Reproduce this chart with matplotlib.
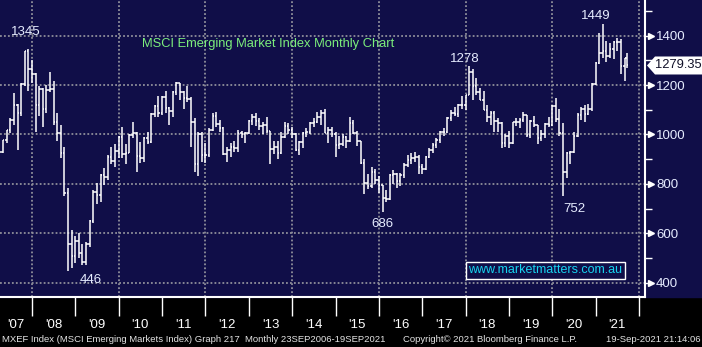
import matplotlib
matplotlib.use("Agg")
import matplotlib.pyplot as plt
import matplotlib.transforms as mtransforms
from matplotlib.patches import Polygon, Rectangle
import numpy as np
import pandas as pd

# MXEF monthly OHLC, Mar-2007 .. Sep-2021 (bars sit at month end, last one 19-Sep-2021)
FIRST_MONTH_END = "2007-03-31"
LAST_DATE = "2021-09-19"

OPEN = [
    900, 929, 976, 1018, 1059, 1120, 1089, 1205, 1338, 1267,
    1245, 1118, 1184, 1104, 1179, 1184, 1049, 1008, 924, 765, 555, 507,
    568, 519, 484, 558, 650, 767, 756, 837, 829, 907, 894, 935,
    989, 919, 926, 998, 1008, 911, 904, 987, 968, 1082, 1115, 1085,
    1151, 1107, 1096, 1171, 1209, 1170, 1147, 1142, 1050, 880, 1000, 918,
    916, 1018, 1074, 1041, 1025, 920, 937, 950, 945, 1004, 1001, 1006,
    1055, 1070, 1054, 1035, 1040, 1013, 940, 949, 925, 988, 1034, 1019,
    1003, 938, 968, 1008, 1010, 1045, 1050, 1070, 1088, 1005, 1017, 1000,
    956, 961, 990, 974, 1047, 1004, 972, 884, 805, 792, 848, 815,
    794, 743, 740, 836, 841, 810, 834, 876, 897, 903, 909, 867,
    862, 909, 936, 958, 979, 1009, 1011, 1066, 1089, 1081, 1119, 1121,
    1158, 1254, 1195, 1170, 1141, 1100, 1069, 1087, 1055, 1048, 967, 994,
    966, 1050, 1052, 1058, 1079, 998, 1054, 1037, 984, 1001, 1042, 1040,
    1115, 1062, 1006, 848, 925, 930, 995, 1079, 1102, 1082, 1103, 1205,
    1291, 1329, 1339, 1316, 1348, 1376, 1375, 1278, 1308,
]
HIGH = [
    930, 978, 1020, 1068, 1168, 1125, 1210, 1340, 1345, 1300,
    1250, 1195, 1190, 1200, 1253, 1215, 1085, 1040, 950, 785, 612, 590,
    600, 555, 565, 655, 775, 805, 840, 865, 915, 950, 960, 995,
    1032, 960, 1000, 1050, 1012, 970, 990, 1010, 1085, 1120, 1155, 1155,
    1175, 1110, 1175, 1212, 1210, 1175, 1195, 1150, 1065, 1010, 1010, 965,
    1025, 1085, 1090, 1060, 1030, 950, 965, 975, 1020, 1015, 1010, 1058,
    1083, 1085, 1065, 1050, 1070, 1015, 975, 975, 1010, 1050, 1045, 1030,
    1005, 975, 1010, 1025, 1050, 1065, 1090, 1100, 1104, 1030, 1030, 1010,
    995, 1000, 995, 1070, 1060, 1015, 975, 900, 840, 870, 860, 830,
    795, 775, 840, 855, 845, 845, 885, 915, 925, 930, 915, 880,
    912, 945, 965, 985, 1015, 1025, 1070, 1100, 1110, 1125, 1155, 1160,
    1278, 1265, 1230, 1190, 1175, 1120, 1095, 1095, 1065, 1050, 1000, 1015,
    1052, 1066, 1065, 1092, 1080, 1060, 1075, 1040, 1020, 1045, 1070, 1118,
    1147, 1105, 1046, 930, 935, 1010, 1085, 1110, 1120, 1125, 1210, 1295,
    1410, 1449, 1380, 1370, 1380, 1390, 1385, 1310, 1330,
]
LOW = [
    845, 925, 965, 1005, 1040, 938, 1075, 1195, 1175, 1210,
    1010, 1075, 1030, 1085, 1170, 1040, 975, 905, 750, 446, 460, 480,
    500, 470, 470, 545, 640, 720, 725, 795, 815, 880, 870, 905,
    905, 880, 925, 985, 850, 885, 890, 960, 965, 1070, 1070, 1080,
    1085, 1040, 1070, 1160, 1140, 1105, 1130, 950, 850, 830, 890, 885,
    910, 1015, 1030, 1010, 915, 890, 910, 930, 930, 985, 965, 1000,
    1040, 1035, 1020, 1000, 1005, 880, 920, 900, 920, 985, 1000, 985,
    935, 915, 945, 990, 1000, 1030, 1045, 1040, 1005, 965, 990, 910,
    940, 955, 945, 970, 1000, 955, 880, 760, 780, 785, 800, 765,
    686, 725, 735, 800, 785, 790, 825, 870, 880, 890, 840, 840,
    855, 905, 925, 945, 965, 995, 1005, 1055, 1075, 1070, 1105, 1100,
    1158, 1140, 1160, 1140, 1100, 1050, 1040, 1010, 1010, 945, 950, 945,
    960, 1035, 1025, 1050, 990, 985, 1030, 960, 975, 985, 1030, 1035,
    1050, 995, 752, 825, 880, 925, 990, 1060, 1050, 1080, 1095, 1200,
    1285, 1310, 1295, 1310, 1305, 1340, 1245, 1215, 1270,
]
CLOSE = [
    929, 976, 1018, 1059, 1120, 1089, 1205, 1338, 1267, 1245,
    1118, 1184, 1104, 1179, 1184, 1049, 1008, 924, 765, 555, 507, 568,
    519, 484, 558, 650, 767, 756, 837, 829, 907, 894, 935, 989,
    919, 926, 998, 1008, 911, 904, 987, 968, 1082, 1115, 1085, 1151,
    1107, 1096, 1171, 1209, 1170, 1147, 1142, 1050, 880, 1000, 918, 916,
    1018, 1074, 1041, 1025, 920, 937, 950, 945, 1004, 1001, 1006, 1055,
    1070, 1054, 1035, 1040, 1013, 940, 949, 925, 988, 1034, 1019, 1003,
    938, 968, 1008, 1010, 1045, 1050, 1070, 1088, 1005, 1017, 1000, 956,
    961, 990, 974, 1047, 1004, 972, 884, 805, 792, 848, 815, 794,
    743, 740, 836, 841, 810, 834, 876, 897, 903, 909, 867, 862,
    909, 936, 958, 979, 1009, 1011, 1066, 1089, 1081, 1119, 1121, 1158,
    1254, 1195, 1170, 1141, 1100, 1069, 1087, 1055, 1048, 967, 994, 966,
    1050, 1052, 1058, 1079, 998, 1054, 1037, 984, 1001, 1042, 1040, 1115,
    1062, 1006, 848, 925, 930, 995, 1079, 1102, 1082, 1103, 1205, 1291,
    1329, 1339, 1316, 1348, 1376, 1375, 1278, 1308, 1279.35,
]

YEARS = list(range(2007, 2022))
YEAR_LABELS = ["'07", "'08", "'09", "'10", "'11", "'12", "'13", "'14",
               "'15", "'16", "'17", "'18", "'19", "'20", "'21"]
GRID_YEARS = [2008, 2010, 2012, 2014, 2016, 2018, 2020, 2022]
Y_TICKS = [400, 600, 800, 1000, 1200, 1400]
Y_MINOR = [500, 700, 900, 1100, 1300, 1500]

CALLOUT_TEXT = ["1345", "446", "686", "1278", "752", "1449"]
CALLOUT_MONTH = ["2007-10", "2008-10", "2016-01", "2018-01", "2020-03", "2021-02"]
CALLOUT_SIDE = ["high", "low", "low", "high", "low", "high"]

TITLE = "MSCI Emerging Market Index Monthly Chart"
WEBSITE = "www.marketmatters.com.au"
FOOTER_LEFT = "MXEF Index (MSCI Emerging Markets Index) Graph 217  Monthly 23SEP2006-19SEP2021"
FOOTER_MID = "Copyright\u00a9 2021 Bloomberg Finance L.P."
FOOTER_RIGHT = "19-Sep-2021 21:14:06"

NAVY = "#100e48"
GRID = "#8f8f9a"
TICKTXT = "#e6ecff"


def year_frac(ts):
    ts = pd.DatetimeIndex(ts)
    days = np.where(ts.is_leap_year, 366, 365)
    return ts.year + ts.dayofyear / days


def main():
    plt.rcParams["font.family"] = ["Liberation Sans", "DejaVu Sans"]
    W, H, DPI = 702, 347, 100

    dates = pd.date_range(FIRST_MONTH_END, periods=len(CLOSE), freq=pd.offsets.MonthEnd())
    dates = dates[:-1].append(pd.DatetimeIndex([LAST_DATE]))
    t = year_frac(dates)

    fig = plt.figure(figsize=(W / DPI, H / DPI), dpi=DPI, facecolor="black")
    fig.patches.append(Rectangle((0, 50 / H), 1, 297 / H, transform=fig.transFigure,
                                 color=NAVY, zorder=-5))
    ax = fig.add_axes([0, 50 / H, 645 / W, 297 / H])
    ax.set_facecolor(NAVY)
    x0, x1 = 2007.262, 2022.138
    ax.set_xlim(x0, x1)
    ax.set_ylim(342, 1544.5)

    # grid
    for v in Y_TICKS:
        ax.axhline(v, color=GRID, lw=1.3, ls=(0, (1.0, 1.2)), zorder=1)
    for y in GRID_YEARS:
        ax.axvline(y, color=GRID, lw=1.3, ls=(0, (1.0, 1.2)), zorder=1)

    # OHLC bars
    tick = 0.036
    ax.vlines(t, LOW, HIGH, color="white", lw=1.1, zorder=3)
    ax.hlines(OPEN, t - tick, t, color="white", lw=1.1, zorder=3)
    ax.hlines(CLOSE, t, t + tick, color="white", lw=1.1, zorder=3)

    # spines
    for side in ("left", "top"):
        ax.spines[side].set_visible(False)
    for side in ("right", "bottom"):
        ax.spines[side].set_color("white")
        ax.spines[side].set_linewidth(1.5)

    # x axis: year separators + centred year labels
    ax.set_xticks(range(2008, 2023))
    ax.set_xticklabels([])
    centers = [(max(y, x0) + min(y + 1, x1)) / 2 for y in YEARS]
    ax.set_xticks(centers, minor=True)
    ax.set_xticklabels(YEAR_LABELS, minor=True, fontsize=9.5, color="white")
    ax.tick_params(axis="x", which="major", length=14, width=1.0, color="white", direction="out")
    ax.tick_params(axis="x", which="minor", length=0, pad=16)

    # right price scale
    ax.yaxis.tick_right()
    ax.set_yticks(Y_TICKS)
    ax.set_yticklabels([str(v) for v in Y_TICKS], fontsize=9.5, color=TICKTXT)
    ax.set_yticks(Y_MINOR, minor=True)
    ax.tick_params(axis="y", which="major", length=5, width=1.0, color="white", pad=3)
    ax.tick_params(axis="y", which="minor", length=5, width=1.0, color="white")
    tri = mtransforms.blended_transform_factory(ax.transAxes, ax.transData)
    ax.plot(np.full(len(Y_TICKS), 1.0095), Y_TICKS, ls="none", marker=">", ms=4.5,
            color="white", transform=tri, clip_on=False, zorder=5)

    # callouts on highs and lows
    month_keys = list(dates.strftime("%Y-%m"))
    offsets = {"1345": (1, 9), "446": (16, -2), "686": (0, -4.4),
               "1278": (-3, 0.5), "752": (8, -5), "1449": (-5, 1.2)}
    for text, month, side in zip(CALLOUT_TEXT, CALLOUT_MONTH, CALLOUT_SIDE):
        i = month_keys.index(month)
        val = HIGH[i] if side == "high" else LOW[i]
        ax.annotate(text, (t[i], val), xytext=offsets[text], textcoords="offset points",
                    ha="center", va="bottom" if side == "high" else "top",
                    color=TICKTXT, fontsize=9.5, zorder=6)

    ax.text(141.5 / 645, (297 - 43.5) / 297, TITLE, transform=ax.transAxes,
            color="#7cee7c", fontsize=9.3, ha="left", va="center")
    ax.text(545.5 / 645, (297 - 270) / 297, WEBSITE, transform=ax.transAxes,
            color="#17d4f0", fontsize=9.0, ha="center", va="center",
            bbox=dict(boxstyle="square,pad=0.2", fc=NAVY, ec="white", lw=1.0))

    # last price tag
    fig.canvas.draw()
    yd = ax.transData.transform((0, CLOSE[-1]))[1]
    xr = ax.transAxes.transform((1, 0))[0]
    tag = Polygon([(xr + 2, yd), (xr + 10, yd + 9), (W, yd + 9), (W, yd - 9), (xr + 10, yd - 9)],
                  closed=True, fc="white", ec="none", transform=mtransforms.IdentityTransform(),
                  zorder=10)
    fig.patches.append(tag)
    fig.text((xr + 10) / W, yd / H, f"{CLOSE[-1]:.2f}", color="#101028", fontsize=9.3,
             ha="left", va="center", zorder=11)

    # footer
    fy = 7 / H
    fs = 6.8
    fig.text(2 / W, fy, FOOTER_LEFT, color="#e4e4e4", fontsize=fs, va="center")
    fig.text(403 / W, fy, FOOTER_MID, color="#e4e4e4", fontsize=fs, va="center")
    fig.text(700 / W, fy, FOOTER_RIGHT, color="#e4e4e4", fontsize=fs, va="center", ha="right")

    fig.savefig("out.png", dpi=DPI, facecolor="black")


if __name__ == "__main__":
    main()
